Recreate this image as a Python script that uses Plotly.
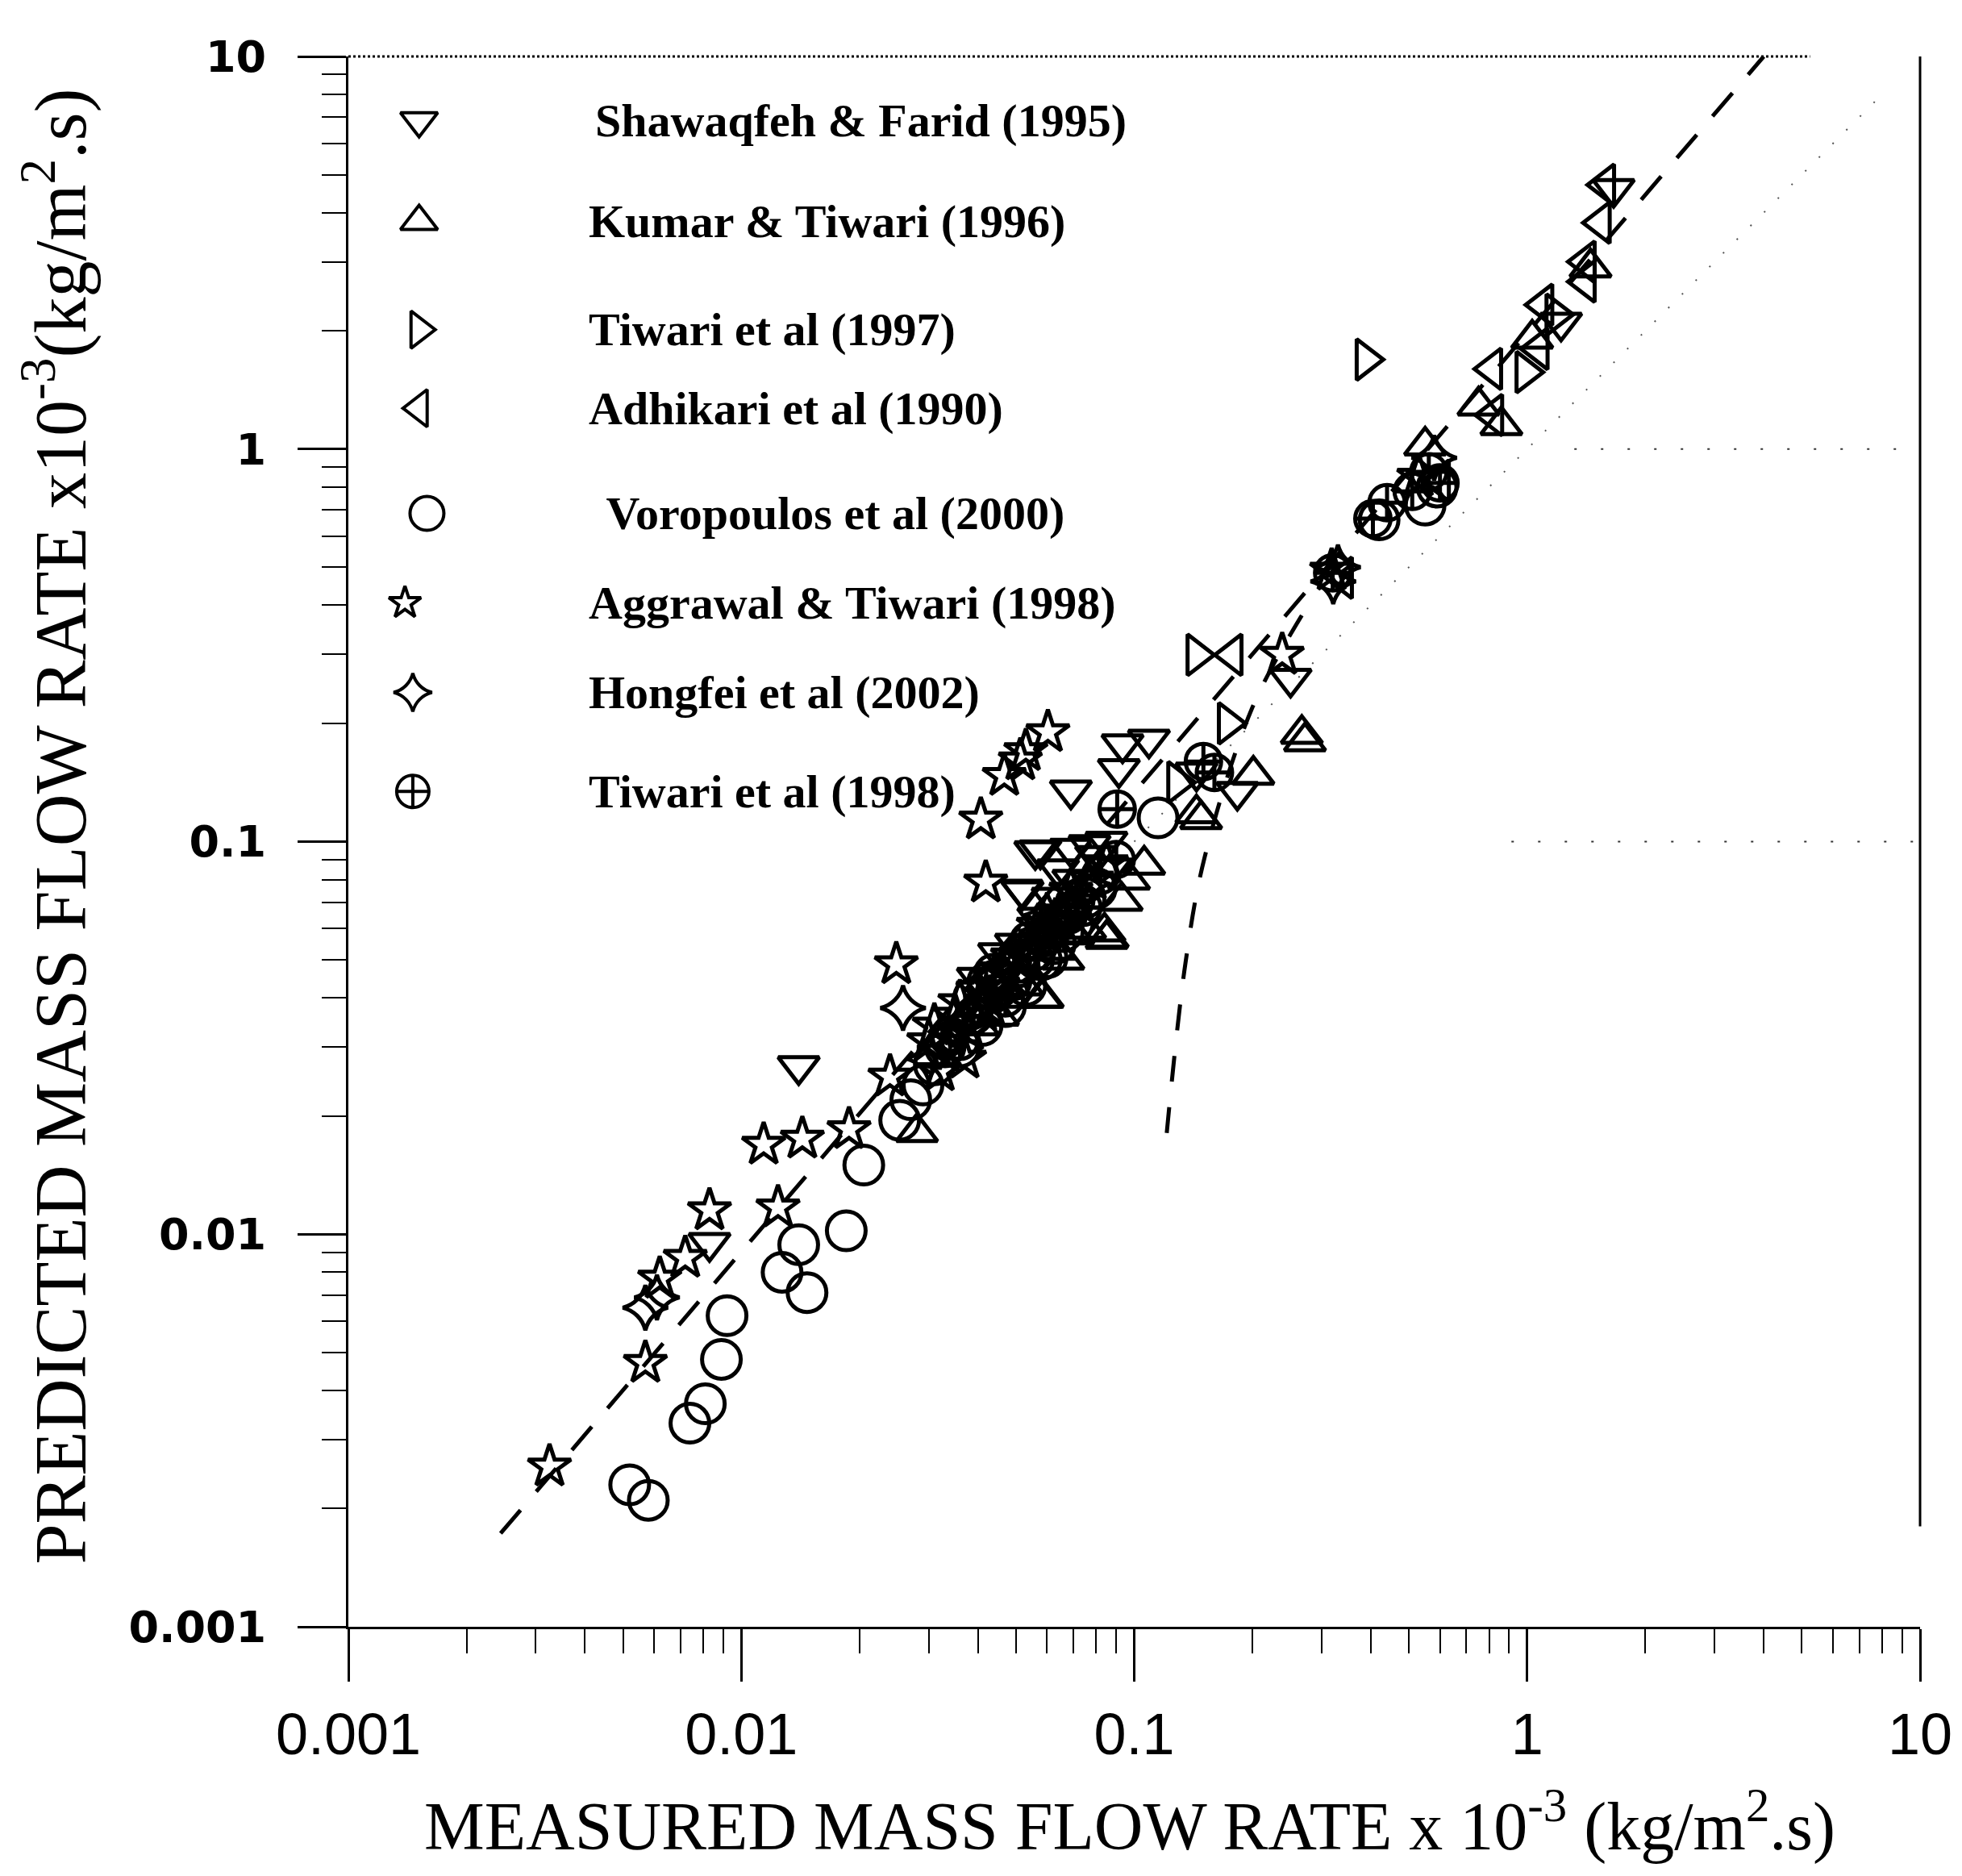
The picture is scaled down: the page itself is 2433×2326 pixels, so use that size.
import plotly.graph_objects as go

# ---------------- data ----------------
series_names = [
    "Shawaqfeh & Farid (1995)",
    "Kumar & Tiwari (1996)",
    "Tiwari et al (1997)",
    "Adhikari et al (1990)",
    " Voropoulos et al (2000)",
    "Aggrawal & Tiwari (1998)",
    "Hongfei et al (2002)",
    "Tiwari et al (1998)",
]

shawaqfeh_x = [0.014, 0.0083, 0.069, 0.0934, 0.109, 0.0914, 0.144, 0.183, 0.25, 0.056, 0.052,
               0.0577, 0.069, 0.0517, 0.040, 0.050, 0.057, 0.062, 0.070, 0.080, 0.085, 0.077,
               0.0453, 0.064, 1.22, 1.66]
shawaqfeh_y = [0.0268, 0.0095, 0.135, 0.177, 0.182, 0.153, 0.150, 0.134, 0.26, 0.0946, 0.0748,
               0.095, 0.096, 0.0755, 0.045, 0.055, 0.064, 0.072, 0.080, 0.092, 0.100, 0.098,
               0.052, 0.085, 2.10, 4.60]

kumar_x = [0.267, 0.272, 0.201, 0.148, 0.144, 0.106, 0.0929, 0.0856, 0.0851, 0.0585, 0.028,
           0.052, 0.045, 0.058, 0.066, 0.075, 0.084, 0.097, 0.55, 0.752, 0.86, 1.03, 1.45,
           0.040, 0.048, 0.063, 0.070]
kumar_y = [0.188, 0.180, 0.148, 0.114, 0.118, 0.0873, 0.0706, 0.0569, 0.0565, 0.040, 0.0182,
           0.043, 0.036, 0.040, 0.050, 0.060, 0.059, 0.080, 1.02, 1.29, 1.15, 1.91, 2.90,
           0.034, 0.040, 0.053, 0.058]

tiwari97_x = [0.388, 0.144, 0.173, 0.1286, 0.99, 1.18]
tiwari97_y = [1.69, 0.299, 0.200, 0.1416, 1.57, 2.20]

adhikari_x = [0.178, 1.58, 1.54, 1.41, 1.41, 1.10, 1.07, 0.815, 0.82, 0.34, 0.60]
adhikari_y = [0.299, 4.71, 3.77, 3.00, 2.67, 2.33, 1.80, 1.60, 1.22, 0.47, 0.83]

voropoulos_x = [0.0185, 0.014, 0.0127, 0.0147, 0.0092, 0.0089, 0.0081, 0.0074, 0.0052, 0.0058,
                0.0205, 0.0253, 0.027, 0.029, 0.031, 0.036, 0.041, 0.047, 0.053, 0.058, 0.060,
                0.063, 0.070, 0.075, 0.080, 0.115, 0.42, 0.59, 0.55,
                0.033, 0.039, 0.044, 0.051, 0.056, 0.066]
voropoulos_y = [0.0102, 0.0094, 0.0080, 0.0071, 0.0062, 0.0048, 0.0037, 0.0033, 0.0023, 0.0021,
                0.0150, 0.0195, 0.022, 0.024, 0.027, 0.030, 0.034, 0.038, 0.043, 0.050, 0.0506,
                0.055, 0.062, 0.072, 0.076, 0.115, 0.66, 0.80, 0.72,
                0.030, 0.040, 0.046, 0.048, 0.053, 0.059]

aggrawal_x = [0.00325, 0.0057, 0.0062, 0.0072, 0.0083, 0.0114, 0.0143, 0.0124, 0.0188, 0.0239,
              0.0248, 0.0419, 0.0407, 0.0467, 0.0513, 0.0603, 0.238, 0.030, 0.033, 0.035, 0.038,
              0.040, 0.043, 0.046, 0.050, 0.055, 0.060, 0.065, 0.072, 0.078, 0.085, 0.032,
              0.037, 0.053, 0.318, 0.53,
              0.031, 0.036, 0.041, 0.045, 0.049, 0.057, 0.063, 0.069]
aggrawal_y = [0.00256, 0.0047, 0.0077, 0.0087, 0.0115, 0.0169, 0.0175, 0.0117, 0.0185, 0.0252,
              0.0487, 0.0786, 0.1138, 0.147, 0.161, 0.190, 0.299, 0.031, 0.029, 0.036, 0.033,
              0.042, 0.038, 0.047, 0.045, 0.055, 0.058, 0.066, 0.070, 0.080, 0.088, 0.026,
              0.028, 0.170, 0.49, 0.85,
              0.034, 0.039, 0.037, 0.043, 0.051, 0.061, 0.063, 0.075]

hongfei_x = [0.0057, 0.0061, 0.0258, 0.030, 0.036, 0.042, 0.048, 0.054, 0.066, 0.076, 0.321,
             0.58, 0.33, 0.032, 0.044, 0.058, 0.060]
hongfei_y = [0.0065, 0.0069, 0.0377, 0.028, 0.034, 0.040, 0.049, 0.052, 0.062, 0.078, 0.46,
             0.95, 0.50, 0.030, 0.045, 0.059, 0.065]

tiwari98_x = [0.034, 0.039, 0.044, 0.049, 0.056, 0.062, 0.068, 0.074, 0.082, 0.090, 0.0905,
              0.15, 0.16, 0.562, 0.60, 0.44, 0.405, 0.32, 0.51,
              0.036, 0.042, 0.047, 0.054, 0.059, 0.071]
tiwari98_y = [0.032, 0.036, 0.041, 0.044, 0.050, 0.060, 0.065, 0.068, 0.082, 0.090, 0.121,
              0.160, 0.150, 0.875, 0.82, 0.73, 0.665, 0.484, 0.78,
              0.031, 0.044, 0.040, 0.056, 0.057, 0.071]

# correlation line (long dashed) and second curve (steep dashed)
fit_x = [0.00244, 2.70, 4.0]
fit_y = [0.00173, 6.30, 10.0]
curve_x = [0.121, 0.135, 0.151, 0.20, 0.267]
curve_y = [0.0181, 0.049, 0.091, 0.22, 0.377]
# faint dotted 1:1 line
diag_x = [0.1, 8.0]
diag_y = [0.1, 8.0]

x_tick_vals = [0.001, 0.01, 0.1, 1, 10]
x_tick_text = ["0.001", "0.01", "0.1", "1", "10"]
y_tick_vals = [0.001, 0.01, 0.1, 1, 10]
y_tick_text = ["0.001", "0.01", "0.1", "1", "10"]
minor_vals = [m * 10.0 ** e for e in range(-3, 1) for m in range(2, 10)]

# ---------------- styling ----------------
symbols = ["triangle-down-open", "triangle-up-open", "triangle-right-open", "triangle-left-open",
           "circle-open", "star-open", "star-diamond-open", "circle-cross-open"]
plot_sizes = [44, 44, 44, 44, 48, 40, 40, 44]
legend_sizes = [40, 40, 40, 40, 42, 30, 34, 40]
legend_sym_x = [0.045, 0.045, 0.045, 0.045, 0.050, 0.036, 0.041, 0.041]
legend_txt_x = [0.156, 0.152, 0.152, 0.152, 0.156, 0.152, 0.152, 0.152]
legend_row_y = [0.959, 0.895, 0.826, 0.776, 0.709, 0.652, 0.595, 0.532]

xs = [shawaqfeh_x, kumar_x, tiwari97_x, adhikari_x, voropoulos_x, aggrawal_x, hongfei_x, tiwari98_x]
ys = [shawaqfeh_y, kumar_y, tiwari97_y, adhikari_y, voropoulos_y, aggrawal_y, hongfei_y, tiwari98_y]

W, H = 2433, 2326
L, R, T, B = 432, 43, 70, 309

fig = go.Figure()

# reference lines
fig.add_trace(go.Scatter(x=diag_x, y=diag_y, mode="lines", showlegend=False, hoverinfo="skip",
                         line=dict(color="#555555", width=2, dash="2px,22px")))
fig.add_trace(go.Scatter(x=fit_x, y=fit_y, mode="lines", showlegend=False, hoverinfo="skip",
                         line=dict(color="black", width=5, dash="38px,30px")))
fig.add_trace(go.Scatter(x=curve_x, y=curve_y, mode="lines", showlegend=False, hoverinfo="skip",
                         line=dict(color="black", width=5, dash="32px,32px", shape="spline")))

for i, name in enumerate(series_names):
    fig.add_trace(go.Scatter(
        x=xs[i], y=ys[i], mode="markers", name=name.strip(), showlegend=False,
        marker=dict(symbol=symbols[i], size=plot_sizes[i], color="black",
                    line=dict(color="black", width=5)),
    ))

# custom legend (symbols on an overlay axis, labels as annotations)
for i, name in enumerate(series_names):
    fig.add_trace(go.Scatter(
        x=[legend_sym_x[i]], y=[legend_row_y[i]], xaxis="x2", yaxis="y2", mode="markers",
        showlegend=False, hoverinfo="skip",
        marker=dict(symbol=symbols[i], size=legend_sizes[i], color="black",
                    line=dict(color="black", width=4)),
    ))
    fig.add_annotation(x=legend_txt_x[i], y=legend_row_y[i], xref="paper", yref="paper",
                       text=name, showarrow=False, xanchor="left", yanchor="middle",
                       font=dict(family="Liberation Serif", size=58, color="black", weight="bold"))

# axis titles
fig.add_annotation(x=0.497, y=-0.096, xref="paper", yref="paper", showarrow=False,
                   xanchor="center", yanchor="top",
                   text="MEASURED MASS FLOW RATE x 10<sup>-3</sup> (kg/m<sup>2</sup>.s)",
                   font=dict(family="Liberation Serif", size=84, color="black"))
fig.add_annotation(x=-0.186, y=0.51, xref="paper", yref="paper", showarrow=False,
                   xanchor="center", yanchor="middle", textangle=-90,
                   text="PREDICTED MASS FLOW RATE x10<sup>-3</sup>(kg/m<sup>2</sup>.s)",
                   font=dict(family="Liberation Serif", size=90, color="black"))

# frame pieces
fig.add_shape(type="line", xref="paper", yref="paper", x0=1, x1=1, y0=0.064, y1=1,
              line=dict(color="black", width=3))
fig.add_shape(type="line", xref="paper", yref="paper", x0=0, x1=0.93, y0=1, y1=1,
              line=dict(color="black", width=3, dash="dot"))
fig.add_shape(type="line", xref="paper", yref="paper", x0=0.78, x1=1, y0=0.75, y1=0.75,
              line=dict(color="#333333", width=2, dash="3px,30px"))
fig.add_shape(type="line", xref="paper", yref="paper", x0=0.74, x1=1, y0=0.5, y1=0.5,
              line=dict(color="#333333", width=2, dash="3px,30px"))

axis_common = dict(type="log", range=[-3, 1], showgrid=False, zeroline=False,
                   showline=True, linecolor="black", linewidth=3,
                   ticks="outside", tickcolor="black", tickwidth=3, tickmode="array")

fig.update_layout(
    width=W, height=H,
    margin=dict(l=L, r=R, t=T, b=B),
    paper_bgcolor="white", plot_bgcolor="white",
    showlegend=False,
    xaxis=dict(**axis_common, tickvals=x_tick_vals, ticktext=x_tick_text, ticklen=65,
               ticklabelstandoff=4,
               tickfont=dict(family="Liberation Sans", size=72, color="black"),
               minor=dict(tickmode="array", tickvals=minor_vals, ticks="outside", ticklen=30,
                          tickwidth=2, tickcolor="black", showgrid=False)),
    yaxis=dict(**axis_common, tickvals=y_tick_vals, ticktext=y_tick_text, ticklen=60,
               ticklabelstandoff=28,
               tickfont=dict(family="DejaVu Sans", size=54, color="black", weight="bold"),
               minor=dict(tickmode="array", tickvals=minor_vals, ticks="outside", ticklen=30,
                          tickwidth=2, tickcolor="black", showgrid=False)),
    xaxis2=dict(overlaying="x", range=[0, 1], visible=False, fixedrange=True),
    yaxis2=dict(overlaying="y", range=[0, 1], visible=False, fixedrange=True),
)

fig.write_html("out.html", config={"displayModeBar": False})
